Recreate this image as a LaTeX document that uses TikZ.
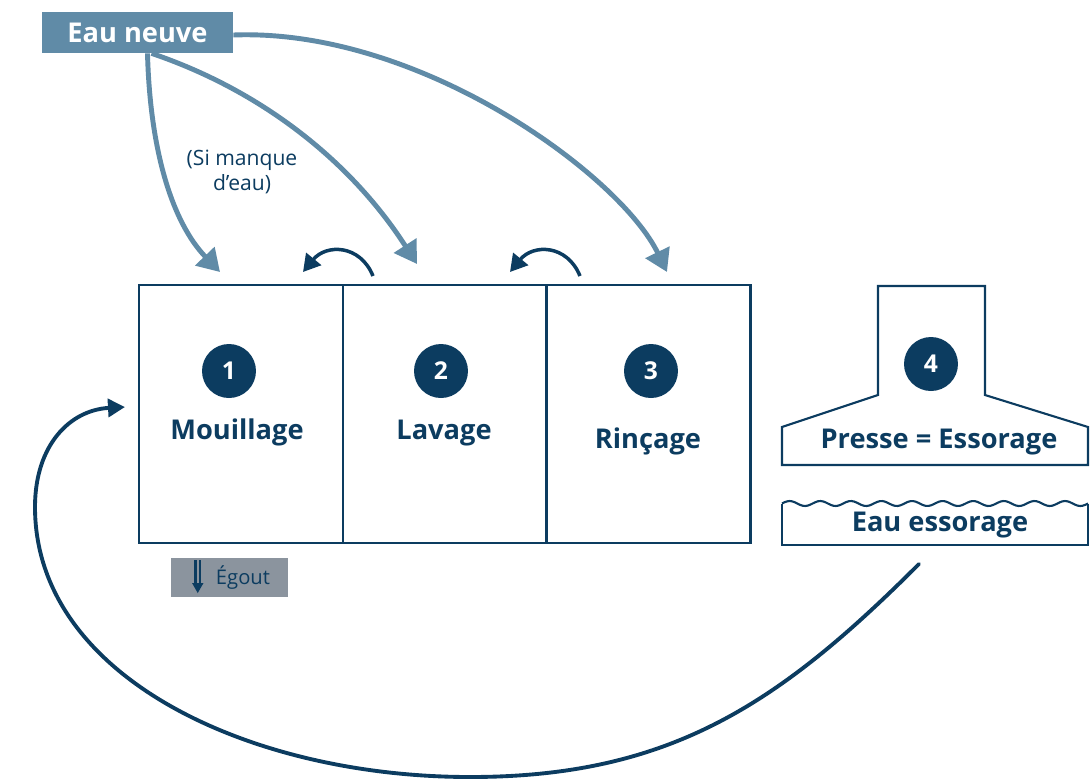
\documentclass[tikz,border=0pt]{standalone}
\usepackage{fontspec}
\setmainfont{Open Sans}
\usetikzlibrary{positioning,arrows.meta,calc}
\definecolor{lvblue}{RGB}{96,139,167}
\definecolor{lvnavy}{RGB}{12,60,96}
\definecolor{lvgrey}{RGB}{139,148,158}
\tikzset{
  lv/.style={font=\fontsize{15.5}{18}\selectfont\bfseries, text=lvnavy},
  lvtank/.style={draw=lvnavy, line width=1.3pt, minimum width=4.08cm,
    minimum height=5.16cm, inner sep=0pt},
  lvnum/.style={circle, fill=lvnavy, text=white, minimum size=1.08cm,
    inner sep=0pt, font=\fontsize{14}{16}\selectfont\bfseries},
  lvsrc/.style={fill=lvblue, text=white, minimum width=3.82cm,
    minimum height=0.82cm, inner sep=0pt, font=\fontsize{15.5}{18}\selectfont\bfseries},
  lvout/.style={fill=lvgrey, text=lvnavy, minimum width=2.34cm,
    minimum height=0.78cm, inner sep=0pt, font=\fontsize{11.5}{14}\selectfont},
  lvnote/.style={text=lvnavy, align=center, font=\fontsize{12}{14.5}\selectfont},
  lvarr/.style={-{Triangle[length=4.4mm,width=5.2mm]}, line width=2.8pt, draw=lvblue},
  lvback/.style={-{Triangle[length=3.4mm,width=3.8mm]}, line width=2pt, draw=lvnavy},
  lvloop/.style={-{Triangle[length=3.4mm,width=3.6mm]}, line width=2.2pt,
    line cap=round, draw=lvnavy},
  lvline/.style={draw=lvnavy, line width=1.2pt},
}

\begin{document}
\begin{tikzpicture}[x=0.02cm, y=-0.02cm]
  \useasboundingbox (0,0) rectangle (1090,779);

  % Bacs
  \node[lvtank] (t1) at (241,414) {};
  \node[lvtank] (t2) at (445,414) {};
  \node[lvtank] (t3) at (648.5,414) {};
  \node[lvnum] (n1) at (229,371) {1};
  \node[lvnum] (n2) at (441,371) {2};
  \node[lvnum] (n3) at (651,371) {3};
  \node[lv] (mouil) at (237,432) {Mouillage};
  \node[lv] (lav) at (444,433) {Lavage};
  \node[lv] (rinc) at (648,441) {Rinçage};

  % Presse
  \draw[lvline] (878,395) -- (878,286) -- (985,286) -- (985,395)
    -- (1088,427) -- (1088,465) -- (782,465) -- (782,427) -- cycle;
  \node[lvnum] (n4) at (931,364) {4};
  \node[lv] (presse) at (939,442) {Presse = Essorage};

  % Eau essorage
  \draw[lvline] (782,504) -- (782,545) -- (1088,545) -- (1088,504);
  \draw[lvline] plot[domain=0:306, samples=120]
    ({\x+782}, {503.5-2.5*sin(11.765*\x)});
  \node[lv] (ess) at (940,525) {Eau essorage};

  % Egout
  \node[lvout] (egout) at (229.5,577.5) {\hspace*{0.54cm}Égout};
  \draw[lvnavy, line width=1.2pt] (195.5,560) -- (195.5,584) (200,560) -- (200,584);
  \fill[lvnavy] (192,583) -- (203.5,583) -- (197.75,593) -- cycle;

  % Eau neuve
  \node[lvsrc] (src) at (137.5,32.5) {Eau neuve};
  \node[lvnote] (note) at (242,172) {(Si manque\\d’eau)};

  % Points d'arrivee
  \coordinate (in1) at (220,272);
  \coordinate (in2) at (417,264);
  \coordinate (in3) at (667,272);
  \coordinate (ret1) at (373,276);
  \coordinate (to1) at (303,272);
  \coordinate (ret2) at (580,276);
  \coordinate (to2) at (510,272);
  \coordinate (outp) at (919,564);
  \coordinate (inp) at (125,407);

  % Fleches
  \draw[lvarr] ([xshift=0.2cm]src.south) .. controls (150,150) and (172,222) .. (in1);
  \draw[lvarr] ([xshift=0.28cm]src.south) .. controls (260,90) and (350,160) .. (in2);
  \draw[lvarr] ([yshift=-0.05cm]src.east) .. controls (420,28) and (620,175) .. (in3);
  \draw[lvback] (ret1) .. controls (360,244) and (326,244) .. (to1);
  \draw[lvback] (ret2) .. controls (567,244) and (533,244) .. (to2);
  \draw[lvloop] (outp) .. controls (779,704) and (670,777) .. (470,777)
    .. controls (250,777) and (35,677) .. (35,507)
    .. controls (35,445) and (70,410) .. (inp);
\end{tikzpicture}
\end{document}
